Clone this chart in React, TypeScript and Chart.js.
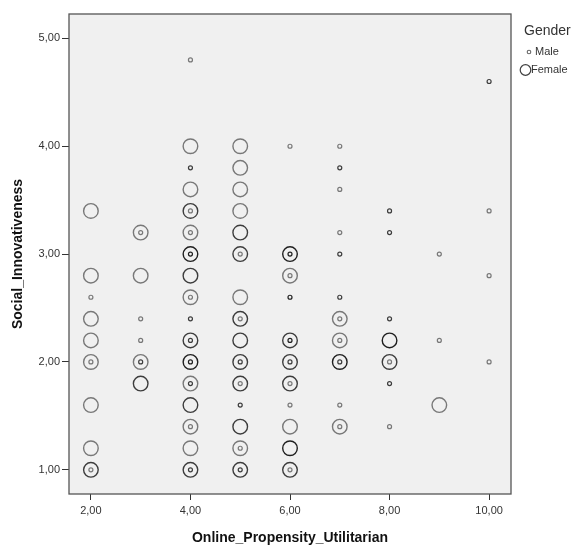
import { useEffect, useRef } from "react";
import { Chart, registerables } from "chart.js";

Chart.register(...registerables);

const FONT = "Arial, 'Liberation Sans', sans-serif";

// Axis ticks
const xTicks = [2, 4, 6, 8, 10];
const yTicks = [1, 2, 3, 4, 5];

// Female cases: position and number of overlapping cases at that position
const femaleX = [
  2, 2, 2, 2, 2, 2, 2, 2,
  3, 3, 3, 3,
  4, 4, 4, 4, 4, 4, 4, 4, 4, 4, 4, 4, 4, 4,
  5, 5, 5, 5, 5, 5, 5, 5, 5, 5, 5, 5, 5, 5,
  6, 6, 6, 6, 6, 6, 6, 6,
  7, 7, 7, 7,
  8, 8,
  9,
];
const femaleY = [
  3.4, 2.8, 2.4, 2.2, 2.0, 1.6, 1.2, 1.0,
  3.2, 2.8, 2.0, 1.8,
  4.0, 3.6, 3.4, 3.2, 3.0, 2.8, 2.6, 2.2, 2.0, 1.8, 1.6, 1.4, 1.2, 1.0,
  4.0, 3.8, 3.6, 3.4, 3.2, 3.0, 2.6, 2.4, 2.2, 2.0, 1.8, 1.4, 1.2, 1.0,
  3.0, 2.8, 2.2, 2.0, 1.8, 1.4, 1.2, 1.0,
  2.4, 2.2, 2.0, 1.4,
  2.2, 2.0,
  1.6,
];
const femaleN = [
  1, 1, 1, 1, 1, 1, 1, 2,
  1, 1, 1, 2,
  1, 1, 2, 1, 3, 2, 1, 2, 3, 1, 2, 1, 1, 2,
  1, 1, 1, 1, 2, 2, 1, 2, 2, 2, 2, 2, 1, 2,
  3, 1, 2, 2, 2, 1, 3, 2,
  1, 1, 3, 1,
  3, 2,
  1,
];

// Male cases: position and number of overlapping cases at that position
const maleX = [
  2, 2, 2,
  3, 3, 3, 3,
  4, 4, 4, 4, 4, 4, 4, 4, 4, 4, 4, 4,
  5, 5, 5, 5, 5, 5, 5,
  6, 6, 6, 6, 6, 6, 6, 6, 6,
  7, 7, 7, 7, 7, 7, 7, 7, 7, 7, 7,
  8, 8, 8, 8, 8, 8,
  9, 9,
  10, 10, 10, 10,
];
const maleY = [
  2.6, 2.0, 1.0,
  3.2, 2.4, 2.2, 2.0,
  4.8, 3.8, 3.4, 3.2, 3.0, 2.6, 2.4, 2.2, 2.0, 1.8, 1.4, 1.0,
  3.0, 2.4, 2.0, 1.8, 1.6, 1.2, 1.0,
  4.0, 3.0, 2.8, 2.6, 2.2, 2.0, 1.8, 1.6, 1.0,
  4.0, 3.8, 3.6, 3.2, 3.0, 2.6, 2.4, 2.2, 2.0, 1.6, 1.4,
  3.4, 3.2, 2.4, 2.0, 1.8, 1.4,
  3.0, 2.2,
  4.6, 3.4, 2.8, 2.0,
];
const maleN = [
  1, 1, 1,
  1, 1, 1, 2,
  1, 2, 1, 1, 3, 1, 2, 2, 3, 2, 1, 2,
  1, 1, 2, 1, 2, 1, 2,
  1, 3, 1, 3, 3, 2, 1, 1, 1,
  1, 2, 1, 1, 2, 2, 1, 1, 2, 1, 1,
  2, 2, 2, 1, 2, 1,
  1, 1,
  2, 1, 1, 1,
];

const toPoints = (xs: number[], ys: number[]) => xs.map((x, i) => ({ x, y: ys[i] }));

// Overlapping translucent rings darken: one case is light grey, more cases darker
const ringColor = (n: number) => `rgba(0,0,0,${(1 - Math.pow(0.5, n)).toFixed(3)})`;

const fmt = (v: number) => v.toFixed(2).replace(".", ",");

const plotFrame = {
  id: "plotFrame",
  beforeDatasetsDraw(chart: any) {
    const { ctx, chartArea } = chart;
    const { left, top, right, bottom } = chartArea;
    ctx.save();
    ctx.fillStyle = "#f0f0f0";
    ctx.fillRect(left, top, right - left, bottom - top);
    ctx.restore();
  },
  afterDraw(chart: any) {
    const { ctx, chartArea } = chart;
    const { left, top, right, bottom } = chartArea;
    ctx.save();
    ctx.strokeStyle = "#555";
    ctx.lineWidth = 1.3;
    ctx.strokeRect(left, top, right - left, bottom - top);

    // Gender legend
    ctx.fillStyle = "#333";
    ctx.textBaseline = "middle";
    ctx.textAlign = "left";
    ctx.font = `14px ${FONT}`;
    ctx.fillText("Gender", 524, 31);
    ctx.font = `11px ${FONT}`;
    ctx.fillText("Male", 535, 52);
    ctx.fillText("Female", 531, 70);
    ctx.strokeStyle = "rgba(0,0,0,0.6)";
    ctx.lineWidth = 1.1;
    ctx.beginPath();
    ctx.arc(529, 52, 1.8, 0, Math.PI * 2);
    ctx.stroke();
    ctx.strokeStyle = "rgba(0,0,0,0.75)";
    ctx.lineWidth = 1.2;
    ctx.beginPath();
    ctx.arc(525.5, 70, 5.3, 0, Math.PI * 2);
    ctx.stroke();
    ctx.restore();
  },
};

export default function App() {
  const canvasRef = useRef<HTMLCanvasElement | null>(null);

  useEffect(() => {
    const canvas = canvasRef.current;
    if (!canvas) return;

    const tickFont = { family: FONT, size: 11 };
    const titleFont = { family: FONT, size: 14, weight: "bold" as const };

    const chart = new Chart(canvas, {
      type: "scatter",
      data: {
        datasets: [
          {
            label: "Female",
            data: toPoints(femaleX, femaleY),
            pointRadius: 7.3,
            pointBorderWidth: 1.4,
            pointBackgroundColor: "rgba(0,0,0,0)",
            pointBorderColor: (c: any) => ringColor(femaleN[c.dataIndex] ?? 1),
          },
          {
            label: "Male",
            data: toPoints(maleX, maleY),
            pointRadius: 2,
            pointBorderWidth: 1.2,
            pointBackgroundColor: "rgba(0,0,0,0)",
            pointBorderColor: (c: any) => ringColor(maleN[c.dataIndex] ?? 1),
          },
        ],
      },
      options: {
        responsive: false,
        animation: false,
        events: [],
        layout: { padding: { left: 0, top: 14, right: 74, bottom: 0 } },
        plugins: {
          legend: { display: false },
          tooltip: { enabled: false },
        },
        scales: {
          x: {
            type: "linear",
            min: 1.56,
            max: 10.44,
            afterBuildTicks: (s: any) => {
              s.ticks = xTicks.map((value) => ({ value }));
            },
            afterFit: (s: any) => {
              s.height = 58;
            },
            border: { display: false },
            grid: {
              display: true,
              drawOnChartArea: false,
              drawTicks: true,
              tickLength: 6,
              tickColor: "#333",
              tickWidth: 1,
            },
            ticks: {
              color: "#333",
              font: tickFont,
              padding: 4,
              maxRotation: 0,
              callback: (v: any) => fmt(Number(v)),
            },
            title: {
              display: true,
              text: "Online_Propensity_Utilitarian",
              color: "#111",
              font: titleFont,
              padding: { top: 0, bottom: 5 },
            },
          },
          y: {
            type: "linear",
            min: 0.776,
            max: 5.226,
            afterBuildTicks: (s: any) => {
              s.ticks = yTicks.map((value) => ({ value }));
            },
            afterFit: (s: any) => {
              s.width = 69;
            },
            border: { display: false },
            grid: {
              display: true,
              drawOnChartArea: false,
              drawTicks: true,
              tickLength: 7,
              tickColor: "#333",
              tickWidth: 1,
            },
            ticks: {
              color: "#333",
              font: tickFont,
              padding: 2,
              callback: (v: any) => fmt(Number(v)),
            },
            title: {
              display: true,
              text: "Social_Innovativeness",
              color: "#111",
              font: titleFont,
              padding: { top: 10, bottom: 0 },
            },
          },
        },
      },
      plugins: [plotFrame],
    } as any);

    return () => chart.destroy();
  }, []);

  return (
    <div
      style={{
        position: "fixed",
        left: 0,
        top: 0,
        width: 585,
        height: 552,
        background: "#fff",
      }}
    >
      <canvas ref={canvasRef} width={585} height={552} style={{ display: "block" }} />
    </div>
  );
}
